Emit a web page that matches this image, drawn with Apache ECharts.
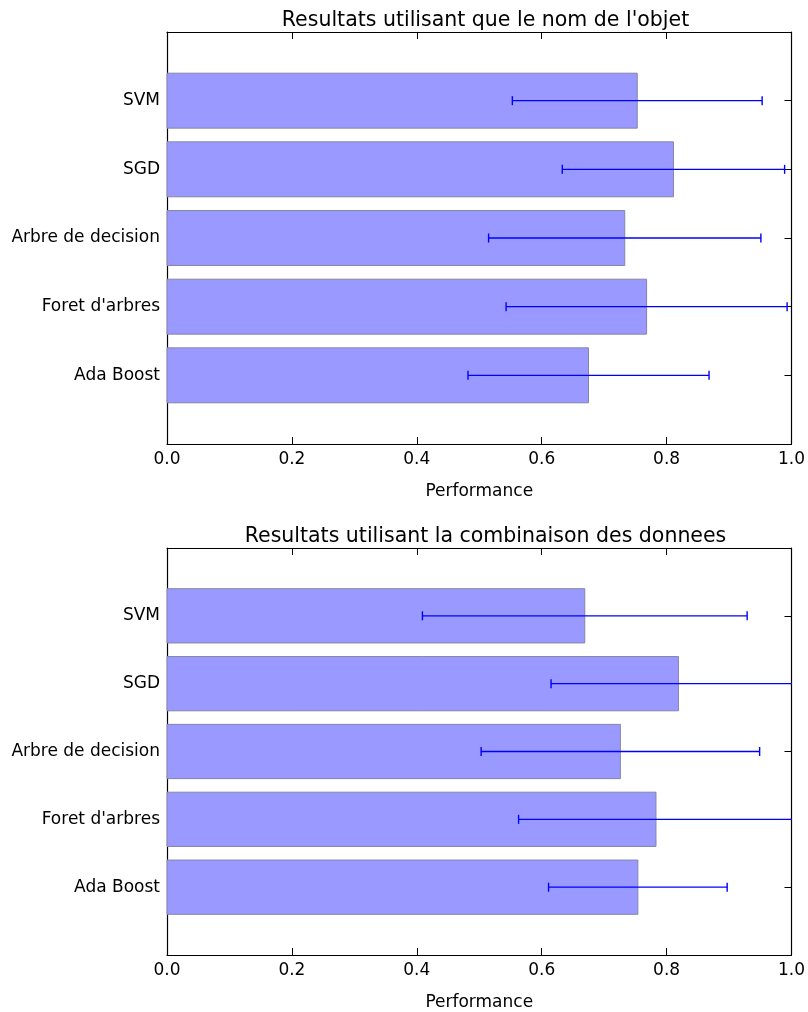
<!DOCTYPE html>
<html>
<head>
<meta charset="utf-8">
<script src="https://cdn.jsdelivr.net/npm/echarts@6/dist/echarts.min.js"></script>
<style>
  html, body { margin: 0; padding: 0; background: #fff; }
  #chart { width: 808px; height: 1012px; }
</style>
</head>
<body>
<div id="chart"></div>
<script>
// Categories listed top to bottom
const categories = ['SVM', 'SGD', 'Arbre de decision', "Foret d'arbres", 'Ada Boost'];
const titles = ["Resultats utilisant que le nom de l'objet", 'Resultats utilisant la combinaison des donnees'];
const xTicks = [0.0, 0.2, 0.4, 0.6, 0.8, 1.0];
const xLabel = 'Performance';

// Panel 1: object name only
const perfName = [0.753, 0.811, 0.733, 0.768, 0.675];
const errName  = [0.200, 0.178, 0.218, 0.225, 0.193];
// Panel 2: combined data
const perfComb = [0.669, 0.819, 0.726, 0.783, 0.754];
const errComb  = [0.260, 0.204, 0.223, 0.220, 0.143];

const FONT = 'DejaVu Sans';
const n = categories.length;
// position: top category gets highest y value
const posOf = i => n - 1 - i;

function rows(perf, err) {
  return perf.map((v, i) => [v, posOf(i), err[i]]);
}

const grids = [
  { left: 167, right: 14, top: 32, height: 412 },
  { left: 167, right: 14, top: 548, height: 412 }
];

const xAxes = [], yAxes = [], series = [], titleList = [];

grids.forEach((g, gi) => {
  // bottom x axis
  xAxes.push({
    type: 'value', gridIndex: gi, position: 'bottom', min: 0, max: 1, interval: 0.2,
    axisLine: { show: true, onZero: false, lineStyle: { color: '#000', width: 1.2 } },
    axisTick: { show: true, inside: true, length: 7, lineStyle: { color: '#000' } },
    axisLabel: { show: true, color: '#000', fontFamily: FONT, fontSize: 17, margin: 7,
      formatter: v => { const t = xTicks.find(x => Math.abs(x - v) < 1e-9); return t === undefined ? '' : t.toFixed(1); } },
    splitLine: { show: false },
    name: xLabel, nameLocation: 'middle', nameGap: 39,
    nameTextStyle: { color: '#000', fontFamily: FONT, fontSize: 17 }
  });
  // top x axis (frame + inward ticks)
  xAxes.push({
    type: 'value', gridIndex: gi, position: 'top', min: 0, max: 1, interval: 0.2,
    axisLine: { show: true, onZero: false, lineStyle: { color: '#000', width: 1.2 } },
    axisTick: { show: true, inside: true, length: 7, lineStyle: { color: '#000' } },
    axisLabel: { show: false }, splitLine: { show: false }
  });
  // left y axis
  yAxes.push({
    type: 'value', gridIndex: gi, position: 'left', min: -1, max: n, interval: 1,
    axisLine: { show: true, onZero: false, lineStyle: { color: '#000', width: 1.2 } },
    axisTick: { show: true, inside: true, length: 7, lineStyle: { color: '#000' } },
    axisLabel: { show: true, color: '#000', fontFamily: FONT, fontSize: 17, margin: 7,
      formatter: v => { const i = n - 1 - Math.round(v); return (Math.abs(v - Math.round(v)) < 1e-9 && i >= 0 && i < n) ? categories[i] : ''; } },
    splitLine: { show: false }
  });
  // right y axis
  yAxes.push({
    type: 'value', gridIndex: gi, position: 'right', min: -1, max: n, interval: 1,
    axisLine: { show: true, onZero: false, lineStyle: { color: '#000', width: 1.2 } },
    axisTick: { show: true, inside: true, length: 7, lineStyle: { color: '#000' } },
    axisLabel: { show: false }, splitLine: { show: false }
  });

  const perf = gi === 0 ? perfName : perfComb;
  const err = gi === 0 ? errName : errComb;
  const data = rows(perf, err);

  // bars
  series.push({
    type: 'custom', name: 'bars' + gi, xAxisIndex: gi * 2, yAxisIndex: gi * 2,
    data: data, silent: true,
    encode: { x: 0, y: 1 },
    renderItem: (params, api) => {
      const v = api.value(0), y = api.value(1);
      const p0 = api.coord([0, y]);
      const p1 = api.coord([v, y]);
      const h = api.size([0, 0.8])[1];
      return {
        type: 'rect',
        shape: { x: p0[0], y: p0[1] - h / 2, width: p1[0] - p0[0], height: h },
        style: { fill: '#9999ff', stroke: '#8585a8', lineWidth: 1 }
      };
    }
  });
  // error bars
  series.push({
    type: 'custom', name: 'err' + gi, xAxisIndex: gi * 2, yAxisIndex: gi * 2,
    data: data, silent: true, clip: true, z: 3,
    encode: { x: 0, y: 1 },
    renderItem: (params, api) => {
      const v = api.value(0), y = api.value(1), e = api.value(2);
      const lo = api.coord([v - e, y]);
      const hi = api.coord([v + e, y]);
      const cap = 4.5;
      const ls = { stroke: '#0000ff', lineWidth: 1.4 };
      return {
        type: 'group',
        children: [
          { type: 'line', shape: { x1: lo[0], y1: lo[1], x2: hi[0], y2: hi[1] }, style: ls },
          { type: 'line', shape: { x1: lo[0], y1: lo[1] - cap, x2: lo[0], y2: lo[1] + cap }, style: ls },
          { type: 'line', shape: { x1: hi[0], y1: hi[1] - cap, x2: hi[0], y2: hi[1] + cap }, style: ls }
        ]
      };
    }
  });

  titleList.push({
    text: titles[gi],
    left: 480.5, top: g.top - 27, textAlign: 'center',
    textStyle: { color: '#000', fontFamily: FONT, fontSize: 20.5, fontWeight: 'normal' }
  });
});

const chart = echarts.init(document.getElementById('chart'), null, { renderer: 'canvas' });
chart.setOption({
  animation: false,
  backgroundColor: '#ffffff',
  title: titleList,
  grid: grids,
  xAxis: xAxes,
  yAxis: yAxes,
  series: series
});
</script>
</body>
</html>
